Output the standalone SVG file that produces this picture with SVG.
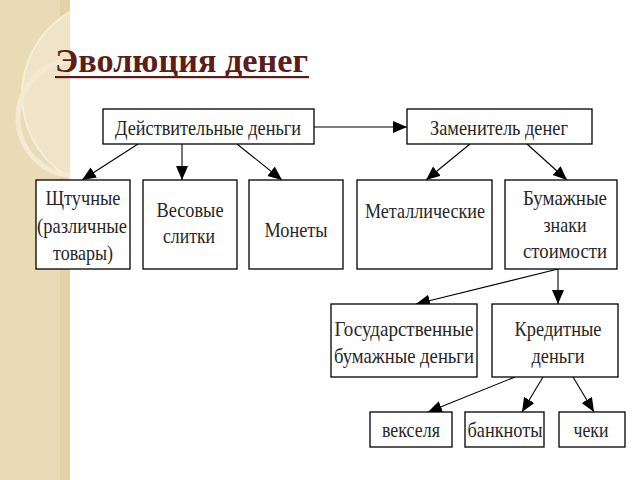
<svg xmlns="http://www.w3.org/2000/svg" width="640" height="480" viewBox="0 0 640 480">
<defs>
<style>
.box{fill:#fff;stroke:#000;stroke-width:1.3}
.t{font-family:"Liberation Serif","Times New Roman",serif;font-size:21px;fill:#262626;text-anchor:middle}
.c{stroke:#000;stroke-width:1.1;fill:none;marker-end:url(#ah)}
.ring{fill:none;stroke:#f3ead3;stroke-width:5}
</style>
<marker id="ah" markerUnits="userSpaceOnUse" markerWidth="15" markerHeight="13" refX="14" refY="6" orient="auto">
<path d="M0,0 L14,6 L0,12 z" fill="#000"/>
</marker>
<clipPath id="strip"><rect x="0" y="0" width="70" height="480"/></clipPath>
</defs>
<rect width="640" height="480" fill="#fff"/>
<g id="background">
<rect x="0" y="0" width="70" height="480" fill="#e9dbb5"/>
<rect x="60" y="0" width="10" height="480" fill="#e2d2a8"/>
<g clip-path="url(#strip)">
<circle cx="118" cy="95" r="96" fill="#efe4c8" stroke="#f5eedc" stroke-width="2"/>
<circle cx="76" cy="118" r="58" class="ring"/>
</g>
</g>
<g id="title">
<text x="55" y="72" font-family="Liberation Serif,'Times New Roman',serif" font-size="34" font-weight="bold" fill="#5a1f1a" textLength="253" lengthAdjust="spacingAndGlyphs">Эволюция денег</text>
<rect x="55" y="76" width="254" height="2.2" fill="#5a1f1a"/>
</g>
<g id="connectors">
<line class="c" x1="314" y1="127" x2="407" y2="127"/>
<line class="c" x1="138" y1="144" x2="82" y2="180"/>
<line class="c" x1="182" y1="144" x2="182" y2="180"/>
<line class="c" x1="237" y1="144" x2="282" y2="180"/>
<line class="c" x1="470" y1="144" x2="426" y2="180"/>
<line class="c" x1="527" y1="144" x2="567" y2="180"/>
<line class="c" x1="558" y1="269" x2="416" y2="304"/>
<line class="c" x1="558" y1="269" x2="558" y2="304"/>
<line class="c" x1="515" y1="377" x2="428" y2="412"/>
<line class="c" x1="543" y1="377" x2="522" y2="412"/>
<line class="c" x1="573" y1="377" x2="594" y2="412"/>
</g>
<g id="n_real">
<rect class="box" x="103" y="109" width="211" height="35"/>
<text class="t" x="208" y="135" textLength="186" lengthAdjust="spacingAndGlyphs">Действительные деньги</text>
</g>
<g id="n_subst">
<rect class="box" x="407" y="109" width="185" height="35"/>
<text class="t" x="499" y="135" textLength="138" lengthAdjust="spacingAndGlyphs">Заменитель денег</text>
</g>
<g id="n_piece">
<rect class="box" x="36" y="180" width="94" height="89"/>
<text class="t" x="83" y="205" textLength="75" lengthAdjust="spacingAndGlyphs">Щтучные</text>
<text class="t" x="82" y="233" textLength="90" lengthAdjust="spacingAndGlyphs">(различные</text>
<text class="t" x="83" y="260" textLength="60" lengthAdjust="spacingAndGlyphs">товары)</text>
</g>
<g id="n_weight">
<rect class="box" x="143" y="180" width="94" height="89"/>
<text class="t" x="190" y="217" textLength="67" lengthAdjust="spacingAndGlyphs">Весовые</text>
<text class="t" x="189" y="243" textLength="52" lengthAdjust="spacingAndGlyphs">слитки</text>
</g>
<g id="n_coins">
<rect class="box" x="249" y="180" width="94" height="89"/>
<text class="t" x="296" y="237" textLength="63" lengthAdjust="spacingAndGlyphs">Монеты</text>
</g>
<g id="n_metal">
<rect class="box" x="357" y="180" width="135" height="89"/>
<text class="t" x="425" y="218" textLength="120" lengthAdjust="spacingAndGlyphs">Металлические</text>
</g>
<g id="n_paper">
<rect class="box" x="505" y="180" width="112" height="89"/>
<text class="t" x="565" y="205" textLength="84" lengthAdjust="spacingAndGlyphs">Бумажные</text>
<text class="t" x="565" y="232" textLength="43" lengthAdjust="spacingAndGlyphs">знаки</text>
<text class="t" x="565" y="258" textLength="84" lengthAdjust="spacingAndGlyphs">стоимости</text>
</g>
<g id="n_state">
<rect class="box" x="331" y="304" width="146" height="73"/>
<text class="t" x="404" y="336" textLength="139" lengthAdjust="spacingAndGlyphs">Государственные</text>
<text class="t" x="404" y="363" textLength="140" lengthAdjust="spacingAndGlyphs">бумажные деньги</text>
</g>
<g id="n_credit">
<rect class="box" x="492" y="304" width="126" height="73"/>
<text class="t" x="558" y="336" textLength="87" lengthAdjust="spacingAndGlyphs">Кредитные</text>
<text class="t" x="558" y="363" textLength="53" lengthAdjust="spacingAndGlyphs">деньги</text>
</g>
<g id="n_bills">
<rect class="box" x="370" y="412" width="82" height="35"/>
<text class="t" x="411" y="437" textLength="58" lengthAdjust="spacingAndGlyphs">векселя</text>
</g>
<g id="n_notes">
<rect class="box" x="465" y="412" width="79" height="35"/>
<text class="t" x="505" y="437" textLength="75" lengthAdjust="spacingAndGlyphs">банкноты</text>
</g>
<g id="n_cheques">
<rect class="box" x="559" y="412" width="66" height="35"/>
<text class="t" x="591" y="437" textLength="35" lengthAdjust="spacingAndGlyphs">чеки</text>
</g>
</svg>
